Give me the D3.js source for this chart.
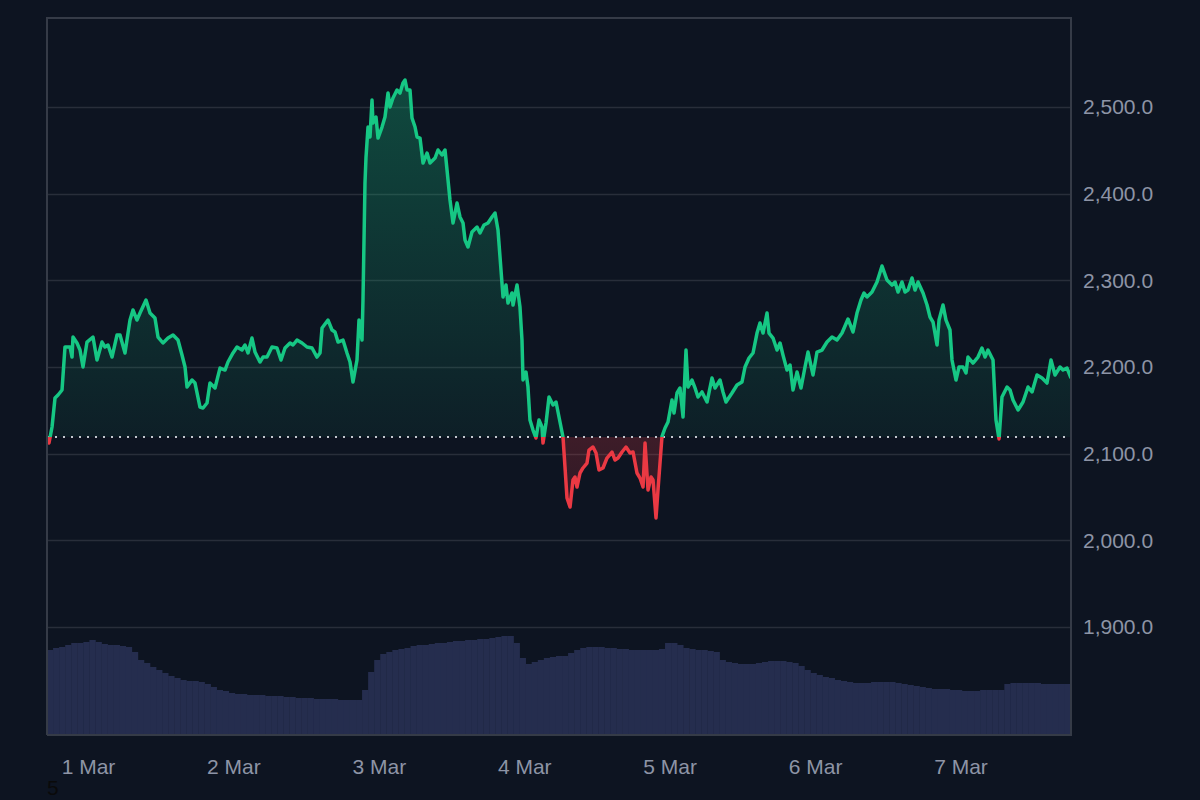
<!DOCTYPE html>
<html><head><meta charset="utf-8">
<script src="https://cdn.jsdelivr.net/npm/d3@7"></script>
<style>html,body{margin:0;background:#0d1421;}svg{display:block;}</style>
</head><body>
<svg id="chart" width="1200" height="800"></svg>
<script>
// ---- data ----
const startTime = new Date(2023, 1, 28, 17, 14); // first observation
const spanHours = 169;
const priceHours = [0,0.33,0.83,1.32,1.82,2.48,2.97,3.80,4.13,4.29,4.95,5.45,5.94,6.60,7.59,8.25,9.08,9.57,10.07,10.73,11.55,12.05,12.87,13.70,14.19,14.85,15.35,16.34,17.00,17.82,18.32,19.14,19.97,20.80,21.62,22.28,22.78,23.11,23.93,24.43,25.25,25.75,26.41,26.90,27.73,28.55,29.38,29.87,30.70,31.36,32.18,32.68,33.17,33.83,34.33,35.15,35.65,36.31,37.13,37.96,38.62,39.28,40.11,40.60,41.26,42.09,42.91,43.74,44.56,45.06,45.39,46.38,47.04,47.53,48.03,48.85,49.51,50.01,50.50,51.16,51.49,51.99,52.15,52.48,52.65,52.98,53.31,53.64,53.80,54.30,54.63,55.29,55.78,56.28,56.61,57.10,57.76,58.26,58.75,59.09,59.42,59.91,60.24,60.74,61.07,61.56,62.06,62.72,63.21,64.04,64.53,65.19,65.69,66.02,66.51,67.01,67.67,68.16,68.66,68.99,69.48,70.14,70.97,71.46,72.12,72.78,73.44,73.94,74.43,75.09,75.26,75.75,76.08,76.74,76.91,77.57,78.06,78.39,78.56,79.05,79.38,79.71,80.21,80.70,81.20,81.69,81.86,82.36,82.85,83.51,84.01,84.50,85.16,85.49,85.82,86.32,86.81,87.14,87.47,87.97,88.46,89.12,89.45,90.11,90.61,91.10,91.76,92.42,93.25,93.74,94.24,94.90,95.56,96.22,96.72,97.37,97.87,98.37,98.70,99.19,99.69,100.02,100.51,100.84,101.50,102.00,102.49,103.15,103.48,103.98,104.47,104.97,105.46,105.79,106.45,106.95,107.44,108.10,108.93,109.75,110.25,111.07,111.57,112.06,113.05,113.88,114.70,115.20,115.86,116.52,117.18,117.67,118.17,118.83,119.16,119.82,120.48,120.98,121.47,122.13,122.63,123.12,123.78,124.44,125.10,125.60,126.42,127.08,127.91,128.73,129.56,130.38,131.21,132.20,133.02,133.68,134.34,134.84,135.33,136.16,136.98,137.81,138.63,139.46,139.96,140.45,141.11,141.61,142.10,142.76,143.26,143.75,144.58,145.24,145.73,146.23,146.89,147.22,147.88,148.37,149.03,149.36,150.02,150.52,151.18,151.67,152.00,152.83,153.65,154.31,154.81,155.30,156.13,156.62,157.12,157.61,158.44,158.94,159.43,160.26,161.08,161.91,162.57,163.39,164.22,165.04,165.70,166.36,167.19,167.68,168.34,169.00];
const prices = [2119.2,2112.3,2130.8,2164.2,2167.7,2173.5,2223.1,2223.1,2211.5,2234.6,2227.7,2219.6,2200.0,2228.8,2234.6,2208.1,2228.8,2223.1,2225.4,2211.5,2236.9,2236.9,2216.2,2254.2,2265.8,2254.2,2262.3,2277.3,2262.3,2256.5,2234.6,2227.7,2233.4,2236.9,2231.1,2213.8,2200.0,2176.9,2185.0,2181.5,2153.8,2152.7,2158.5,2181.5,2175.8,2198.8,2196.5,2205.8,2216.2,2223.1,2219.6,2225.4,2216.2,2233.4,2217.3,2205.8,2211.5,2211.5,2223.1,2221.9,2208.1,2221.9,2227.7,2225.4,2231.1,2227.7,2223.1,2221.9,2211.5,2216.2,2245.0,2254.2,2242.7,2240.4,2228.8,2231.1,2216.2,2205.8,2182.7,2208.1,2254.2,2231.1,2277.3,2412.3,2442.3,2476.9,2465.4,2508.1,2481.5,2488.4,2464.2,2476.9,2488.4,2516.1,2500.0,2510.4,2519.6,2516.1,2527.7,2531.1,2519.6,2519.6,2487.3,2476.9,2465.4,2464.2,2435.4,2446.9,2435.4,2441.1,2450.4,2444.6,2450.4,2427.3,2392.7,2366.2,2389.2,2373.1,2366.2,2346.5,2338.5,2355.8,2361.5,2354.6,2363.8,2366.2,2373.1,2377.7,2358.1,2296.9,2280.8,2294.6,2273.8,2285.4,2271.5,2294.6,2269.2,2231.1,2185.0,2194.2,2176.9,2138.8,2127.3,2118.1,2138.8,2130.8,2112.3,2135.4,2165.4,2156.2,2159.6,2142.3,2119.2,2084.6,2048.8,2038.5,2069.6,2073.1,2061.5,2077.7,2083.5,2089.2,2104.2,2107.7,2100.8,2081.2,2083.5,2095.0,2101.9,2092.7,2095.0,2101.9,2107.7,2100.8,2101.9,2077.7,2071.9,2061.5,2112.3,2058.1,2073.1,2069.6,2025.8,2058.1,2120.0,2129.6,2136.5,2161.9,2146.9,2170.0,2175.8,2142.3,2219.6,2176.9,2185.0,2175.8,2165.4,2171.2,2159.6,2187.3,2175.8,2185.0,2171.2,2159.6,2170.0,2179.2,2182.7,2200.0,2210.4,2216.2,2239.2,2250.8,2239.2,2262.3,2239.2,2233.4,2219.6,2227.7,2213.8,2196.5,2202.3,2173.5,2194.2,2175.8,2200.0,2217.3,2190.8,2217.3,2219.6,2228.8,2234.6,2231.1,2239.2,2255.4,2240.4,2262.3,2277.3,2285.4,2280.8,2286.5,2298.1,2316.5,2300.4,2294.6,2298.1,2286.5,2298.1,2286.5,2288.8,2302.7,2288.8,2298.1,2285.4,2271.5,2257.7,2251.9,2225.4,2254.2,2271.5,2254.2,2242.7,2208.1,2185.0,2200.0,2200.0,2193.1,2211.5,2204.6,2211.5,2221.9,2211.5,2219.6,2208.1,2138.8,2117.0,2165.4,2176.9,2173.5,2161.9,2150.4,2159.6,2176.9,2171.2,2190.8,2187.3,2181.5,2208.1,2190.8,2200.0,2196.5,2198.8,2187.3];
// hourly volume (one bar per hour from startTime)
const volumes = [850,870,880,900,920,920,930,950,930,910,900,900,890,880,830,750,720,680,650,620,590,570,550,540,540,530,510,480,450,440,420,410,410,400,400,400,390,390,390,380,380,370,370,370,360,360,360,360,350,350,350,350,450,630,750,810,830,850,860,870,890,900,900,910,920,920,930,940,940,950,950,960,960,970,980,990,990,920,770,710,730,750,770,780,790,790,820,850,870,880,880,880,870,870,860,860,850,850,850,850,850,860,920,920,900,870,860,850,850,840,830,750,730,720,710,710,710,720,730,740,740,740,730,720,690,650,620,600,580,570,550,540,530,520,520,520,530,530,530,530,520,510,500,490,480,470,460,460,460,450,450,440,440,440,450,450,450,450,510,520,520,520,520,520,510,510,510,510,510,510];
const priceTicks = [1900, 2000, 2100, 2200, 2300, 2400, 2500];
const baselinePrice = prices[0];

// ---- layout ----
const L = 47, R = 1071, T = 18, B = 735;
const green = "#16c784", red = "#ea3943";
const font = "'Liberation Sans', Arial, sans-serif";

const svg = d3.select("#chart");
svg.append("rect").attr("width", 1200).attr("height", 800).attr("fill", "#0d1421");

const hourMs = 3600e3;
const endTime = new Date(+startTime + spanHours * hourMs);
const x = d3.scaleTime().domain([startTime, endTime]).range([L, R]);
const y = d3.scaleLinear().domain([1775.4, 2602.7]).range([B, T]);
const yv = d3.scaleLinear().domain([0, 1150]).range([B, B - 115]);

const data = priceHours.map((h, i) => ({ t: new Date(+startTime + h * hourMs), p: prices[i] }));
const yBase = y(baselinePrice);

const defs = svg.append("defs");
defs.append("clipPath").attr("id", "plot").append("rect").attr("x", L).attr("y", T).attr("width", R - L).attr("height", B - T);
defs.append("clipPath").attr("id", "above").append("rect").attr("x", L).attr("y", T).attr("width", R - L).attr("height", yBase - T);
defs.append("clipPath").attr("id", "below").append("rect").attr("x", L).attr("y", yBase).attr("width", R - L).attr("height", B - yBase);

const gg = defs.append("linearGradient").attr("id", "gGreen").attr("gradientUnits", "userSpaceOnUse")
  .attr("x1", 0).attr("x2", 0).attr("y1", y(2531)).attr("y2", yBase);
gg.append("stop").attr("offset", 0).attr("stop-color", green).attr("stop-opacity", 0.3);
gg.append("stop").attr("offset", 1).attr("stop-color", green).attr("stop-opacity", 0.06);
const gr = defs.append("linearGradient").attr("id", "gRed").attr("gradientUnits", "userSpaceOnUse")
  .attr("x1", 0).attr("x2", 0).attr("y1", yBase).attr("y2", y(2025));
gr.append("stop").attr("offset", 0).attr("stop-color", red).attr("stop-opacity", 0.22);
gr.append("stop").attr("offset", 1).attr("stop-color", red).attr("stop-opacity", 0.14);

// grid
svg.append("g").selectAll("line").data(priceTicks).join("line")
  .attr("x1", L).attr("x2", R).attr("y1", d => Math.round(y(d)) + 0.5).attr("y2", d => Math.round(y(d)) + 0.5)
  .attr("stroke", "#282e3a").attr("stroke-width", 1.5);

// volume bars
svg.append("g").attr("clip-path", "url(#plot)").selectAll("rect").data(volumes).join("rect")
  .attr("x", (d, i) => x(new Date(+startTime + i * hourMs)))
  .attr("width", (d, i) => x(new Date(+startTime + (i + 1) * hourMs)) - x(new Date(+startTime + i * hourMs)) + 0.3)
  .attr("y", d => yv(d)).attr("height", d => B - yv(d))
  .attr("fill", "#252d4e");

// areas
const area = d3.area().x(d => x(d.t)).y0(yBase).y1(d => y(d.p));
svg.append("path").datum(data).attr("d", area).attr("fill", "url(#gGreen)").attr("clip-path", "url(#above)");
svg.append("path").datum(data).attr("d", area).attr("fill", "url(#gRed)").attr("clip-path", "url(#below)");

// baseline
svg.append("line").attr("x1", L).attr("x2", R).attr("y1", yBase).attr("y2", yBase)
  .attr("stroke", "#c3c7cf").attr("stroke-width", 2).attr("stroke-dasharray", "2 6");

// lines
const line = d3.line().x(d => x(d.t)).y(d => y(d.p));
svg.append("path").datum(data).attr("d", line).attr("fill", "none").attr("stroke", green)
  .attr("stroke-width", 3.5).attr("stroke-linejoin", "round").attr("clip-path", "url(#above)");
svg.append("path").datum(data).attr("d", line).attr("fill", "none").attr("stroke", red)
  .attr("stroke-width", 3.5).attr("stroke-linejoin", "round").attr("clip-path", "url(#below)");

// frame
svg.append("path").attr("d", `M${L},${B}V${T}H${R}V${B}H${L}`).attr("fill", "none")
  .attr("stroke", "#353b47").attr("stroke-width", 2);

// axes
const yAxis = svg.append("g").attr("transform", `translate(${R},0)`)
  .call(d3.axisRight(y).tickValues(priceTicks).tickFormat(d3.format(",.1f")).tickSize(0).tickPadding(12));
const xAxis = svg.append("g").attr("transform", `translate(0,${B})`)
  .call(d3.axisBottom(x).ticks(d3.timeDay.every(1)).tickFormat(d3.timeFormat("%-d %b")).tickSize(0).tickPadding(24));
[yAxis, xAxis].forEach(g => {
  g.select(".domain").remove();
  g.selectAll("text").attr("fill", "#8d94a6").style("font-family", font).style("font-size", "21px");
});

svg.append("text").attr("x", 47).attr("y", 795).text("5")
  .attr("fill", "#0a0a0a").style("font-family", font).style("font-size", "21px");
</script>
</body></html>
